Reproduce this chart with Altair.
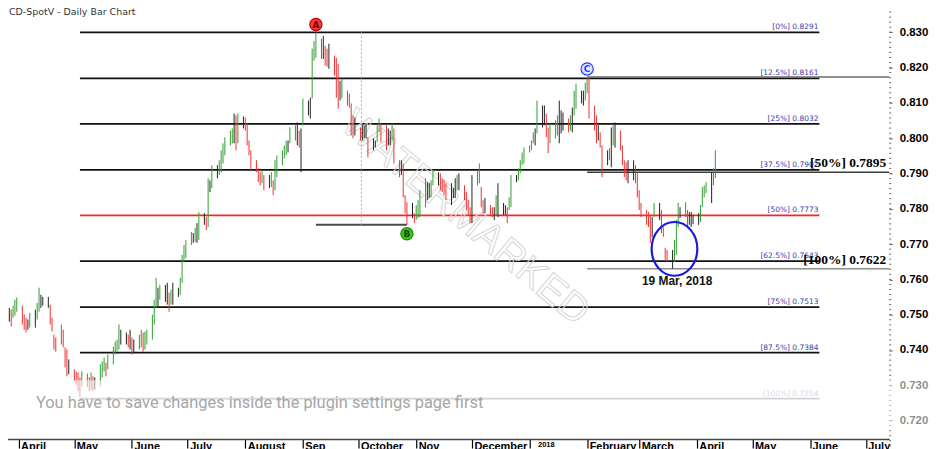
import json
import altair as alt
import numpy as np
import pandas as pd

# ---------------- data ----------------
title_text = "CD-SpotV - Daily Bar Chart"
notice_text = "You have to save changes inside the plugin settings page first"
watermark_text = "WATERMARKED"

first_day = "2017-03-23"   # business days from here, one value per day
highs = [
    0.7506, 0.7500,
    0.7511, 0.7506, 0.7517, 0.7534, 0.7540,
    0.7517, 0.7492, 0.7483, 0.7478, 0.7497,
    0.7506, 0.7525, 0.7568, 0.7548, 0.7542,
    0.7542, 0.7520, 0.7483, 0.7435, 0.7427,
    0.7464, 0.7449, 0.7399, 0.7393, 0.7365,
    0.7337, 0.7331, 0.7328, 0.7314, 0.7331,
    0.7325, 0.7314, 0.7328, 0.7317, 0.7314,
    0.7351, 0.7359, 0.7370, 0.7356, 0.7379,
    0.7401, 0.7416, 0.7421, 0.7464, 0.7449,
    0.7441, 0.7435, 0.7449, 0.7427, 0.7421,
    0.7435, 0.7449, 0.7441, 0.7444, 0.7449,
    0.7492, 0.7534, 0.7596, 0.7568, 0.7576,
    0.7576, 0.7582, 0.7554, 0.7562, 0.7582,
    0.7568, 0.7596, 0.7661, 0.7689, 0.7703,
    0.7726, 0.7723, 0.7737, 0.7751, 0.7782,
    0.7779, 0.7768, 0.7878, 0.7872, 0.7915,
    0.7915, 0.7929, 0.7957, 0.7977, 0.7994,
    0.8013, 0.8019, 0.8061, 0.8056, 0.8061,
    0.8053, 0.8050, 0.8033, 0.7985, 0.7957,
    0.7929, 0.7906, 0.7895, 0.7901, 0.7887,
    0.7887, 0.7895, 0.7872, 0.7929, 0.7943,
    0.7957, 0.7971, 0.7985, 0.7985, 0.8022,
    0.8028, 0.8036, 0.8013, 0.8019, 0.8104,
    0.8098, 0.8106, 0.8245, 0.8267, 0.8291,
    0.8273, 0.8281, 0.8253, 0.8245, 0.8259,
    0.8225, 0.8219, 0.8202, 0.8154, 0.8160,
    0.8126, 0.8118, 0.8090, 0.8056, 0.8050,
    0.8022, 0.8028, 0.8028, 0.8033, 0.7994,
    0.7991, 0.7985, 0.8028, 0.8047, 0.8033,
    0.8028, 0.8019, 0.8013, 0.8033, 0.8019,
    0.7929, 0.7929, 0.7920, 0.7830, 0.7810,
    0.7808, 0.7779, 0.7802, 0.7816, 0.7844,
    0.7878, 0.7867, 0.7864, 0.7872, 0.7901,
    0.7895, 0.7892, 0.7878, 0.7872, 0.7864,
    0.7864, 0.7850, 0.7878, 0.7887, 0.7892,
    0.7858, 0.7839, 0.7816, 0.7796, 0.7887,
    0.7901, 0.7920, 0.7853, 0.7816, 0.7822,
    0.7802, 0.7796, 0.7796, 0.7830, 0.7864,
    0.7808, 0.7802, 0.7796, 0.7824, 0.7887,
    0.7887, 0.7906, 0.7929, 0.7951, 0.7965,
    0.7971, 0.7985, 0.8008, 0.8019, 0.8098,
    0.8084, 0.8084, 0.8061, 0.8022, 0.8033,
    0.8042, 0.8056, 0.8098, 0.8070, 0.8064,
    0.8047, 0.8056, 0.8078, 0.8126, 0.8146,
    0.8126, 0.8126, 0.8149, 0.8165, 0.8163,
    0.8084, 0.8056, 0.8028, 0.8008, 0.7971,
    0.7957, 0.7963, 0.8022, 0.8028, 0.8036,
    0.8013, 0.7971, 0.7929, 0.7923, 0.7929,
    0.7929, 0.7915, 0.7892, 0.7844, 0.7808,
    0.7788, 0.7782, 0.7774, 0.7768, 0.7808,
    0.7808, 0.7788, 0.7740, 0.7681, 0.7675,
    0.7675, 0.7703, 0.7760, 0.7808, 0.7796,
    0.7810, 0.7788, 0.7782, 0.7782, 0.7774,
    0.7779, 0.7802, 0.7853, 0.7858, 0.7867,
    0.7895, 0.7906, 0.7957,
]
lows = [
    0.7483, 0.7478,
    0.7472, 0.7458, 0.7483, 0.7489, 0.7500,
    0.7464, 0.7449, 0.7441, 0.7449, 0.7455,
    0.7455, 0.7478, 0.7500, 0.7511, 0.7517,
    0.7511, 0.7464, 0.7444, 0.7393, 0.7387,
    0.7407, 0.7399, 0.7342, 0.7317, 0.7323,
    0.7303, 0.7294, 0.7275, 0.7258, 0.7289,
    0.7286, 0.7275, 0.7280, 0.7275, 0.7280,
    0.7289, 0.7314, 0.7331, 0.7317, 0.7337,
    0.7351, 0.7379, 0.7387, 0.7393, 0.7407,
    0.7407, 0.7399, 0.7393, 0.7379, 0.7385,
    0.7393, 0.7399, 0.7387, 0.7393, 0.7407,
    0.7421, 0.7464, 0.7511, 0.7511, 0.7534,
    0.7528, 0.7520, 0.7500, 0.7520, 0.7520,
    0.7542, 0.7548, 0.7582, 0.7641, 0.7652,
    0.7689, 0.7695, 0.7698, 0.7695, 0.7703,
    0.7746, 0.7731, 0.7740, 0.7839, 0.7850,
    0.7878, 0.7887, 0.7895, 0.7920, 0.7943,
    0.7971, 0.7977, 0.7977, 0.7957, 0.7977,
    0.8019, 0.8013, 0.7971, 0.7943, 0.7901,
    0.7895, 0.7867, 0.7858, 0.7864, 0.7844,
    0.7850, 0.7853, 0.7830, 0.7844, 0.7881,
    0.7915, 0.7934, 0.7943, 0.7951, 0.7977,
    0.7985, 0.7971, 0.7965, 0.7895, 0.8028,
    0.8056, 0.8047, 0.8104, 0.8211, 0.8219,
    0.8216, 0.8216, 0.8197, 0.8194, 0.8188,
    0.8169, 0.8106, 0.8075, 0.8098, 0.8104,
    0.8084, 0.8078, 0.7999, 0.7991, 0.7999,
    0.7985, 0.7985, 0.7991, 0.7991, 0.7937,
    0.7957, 0.7965, 0.7980, 0.8008, 0.7980,
    0.7957, 0.7971, 0.7971, 0.7985, 0.7920,
    0.7881, 0.7887, 0.7824, 0.7779, 0.7746,
    0.7765, 0.7751, 0.7760, 0.7765, 0.7768,
    0.7796, 0.7816, 0.7822, 0.7824, 0.7858,
    0.7858, 0.7844, 0.7839, 0.7830, 0.7816,
    0.7802, 0.7822, 0.7822, 0.7844, 0.7844,
    0.7816, 0.7788, 0.7774, 0.7751, 0.7751,
    0.7858, 0.7864, 0.7796, 0.7779, 0.7779,
    0.7774, 0.7768, 0.7760, 0.7774, 0.7768,
    0.7774, 0.7774, 0.7751, 0.7788, 0.7796,
    0.7867, 0.7872, 0.7892, 0.7915, 0.7920,
    0.7951, 0.7957, 0.7977, 0.7971, 0.8005,
    0.8022, 0.8028, 0.7994, 0.7949, 0.7977,
    0.7991, 0.7999, 0.7977, 0.8005, 0.8013,
    0.8008, 0.8013, 0.8008, 0.8056, 0.8075,
    0.8090, 0.8084, 0.8098, 0.8118, 0.8047,
    0.8013, 0.7977, 0.7985, 0.7965, 0.7881,
    0.7915, 0.7929, 0.7909, 0.7971, 0.7965,
    0.7957, 0.7915, 0.7881, 0.7872, 0.7864,
    0.7872, 0.7864, 0.7824, 0.7788, 0.7768,
    0.7746, 0.7740, 0.7695, 0.7712, 0.7768,
    0.7760, 0.7723, 0.7712, 0.7647, 0.7641,
    0.7622, 0.7641, 0.7661, 0.7740, 0.7765,
    0.7768, 0.7740, 0.7746, 0.7740, 0.7748,
    0.7746, 0.7754, 0.7796, 0.7824, 0.7836,
    0.7808, 0.7858, 0.7878,
]
assert len(highs) == len(lows)

level_pcts = ["0%", "12.5%", "25%", "37.5%", "50%", "62.5%", "75%", "87.5%", "100%"]
level_values = [0.8291, 0.8161, 0.8032, 0.7902, 0.7773, 0.7643, 0.7513, 0.7384, 0.7254]
level_start = "2017-05-04"
level_end = "2018-06-06"

second_pcts = ["50%", "100%"]
second_values = [0.7895, 0.7622]

marker_labels = ["A", "B", "C"]
marker_dates = ["2017-09-08", "2017-10-27", "2018-02-01"]
marker_prices = [0.8291, 0.7746, 0.8165]
marker_kinds = ["high", "low", "high"]

low_date = "2018-03-19"
low_price = 0.7622
circle_date = "2018-03-20"
circle_price = 0.7678

y_ticks = [0.720, 0.730, 0.740, 0.750, 0.760, 0.770, 0.780, 0.790, 0.800, 0.810, 0.820, 0.830]
month_starts = ["2017-04-01", "2017-05-01", "2017-06-01", "2017-07-01", "2017-08-01", "2017-09-01",
                "2017-10-01", "2017-11-01", "2017-12-01", "2018-01-01", "2018-02-01", "2018-03-01",
                "2018-04-01", "2018-05-01", "2018-06-01", "2018-07-01"]
month_names = ["April", "May", "June", "July", "August", "Sep", "October", "Nov", "December",
               "2018", "February", "March", "April", "May", "June", "July"]

# ---------------- layout / style ----------------
W, H = 893, 440
x_scale = alt.Scale(domain=[alt.DateTime(year=2017, month=3, date=22),
                            alt.DateTime(year=2018, month=7, date=13, hours=13, minutes=30)])
y_scale = alt.Scale(domain=[0.71392, 0.8380], nice=False, zero=False)

GREEN, RED, BLACK = "#2f9e2f", "#ee3030", "#222222"

def dt(s):
    t = pd.Timestamp(s)
    return alt.DateTime(year=t.year, month=t.month, date=t.day)

label_array = json.dumps(month_names).replace('"', "'")
x_axis = alt.Axis(
    values=[dt(m) for m in month_starts],
    labelExpr=f"{label_array}[(year(datum.value)-2017)*12+month(datum.value)-3]",
    labelAlign="left", labelBaseline="top", labelPadding=-8,
    labelOffset={"condition": {"test": "month(datum.value)==0", "value": 8}, "value": 2},
    labelFont="Liberation Sans", labelFontWeight="bold",
    labelFontSize={"condition": {"test": "month(datum.value)==0", "value": 7.5}, "value": 11},
    labelColor="#000", labelOverlap=False, labelFlush=False,
    tickSize=9, tickColor="#000", tickWidth=1.2,
    domainColor="#444", domainWidth=1.5, grid=False, title=None,
)
y_axis = alt.Axis(
    orient="right", values=y_ticks, format=".3f",
    labelFont="Liberation Sans", labelFontWeight="bold", labelFontSize=11.5, labelColor="#000",
    labelPadding=7, tickSize=3, tickColor="#555", tickOffset=3,
    domain=False, grid=False, title=None,
)

# ---------------- tables ----------------
bar_df = pd.DataFrame({"date": pd.bdate_range(first_day, periods=len(highs)),
                       "high": highs, "low": lows})
ph, pl = bar_df["high"].shift(), bar_df["low"].shift()
bar_df["clr"] = np.where((bar_df["high"] > ph) & (bar_df["low"] > pl), GREEN,
                         np.where((bar_df["high"] < ph) & (bar_df["low"] < pl), RED, BLACK))

lev = pd.DataFrame({"pct": level_pcts, "value": level_values})
lev["start"] = pd.Timestamp(level_start)
lev["end"] = pd.Timestamp(level_end)
lev["label"] = [f"[{p}] {v:.4f}" for p, v in zip(level_pcts, level_values)]
lev["line_color"] = [{"50%": "#ff2424", "100%": "#a0a0a0"}.get(p, "#111111") for p in level_pcts]
lev["text_color"] = ["#a8a8d0" if p == "100%" else "#3b3bab" for p in level_pcts]

mk = pd.DataFrame({"label": marker_labels, "date": pd.to_datetime(marker_dates),
                   "price": marker_prices, "kind": marker_kinds})
mk_fill = {"A": "#f03c3c", "B": "#3cc81a", "C": "#dfe5ff"}
mk_stroke = {"A": "#c40000", "B": "#1f8a00", "C": "#1f3cff"}
mk_text = {"A": "#7a0000", "B": "#0d4d00", "C": "#1f3cff"}
mk["fill"] = mk["label"].map(mk_fill)
mk["stroke"] = mk["label"].map(mk_stroke)
mk["tcolor"] = mk["label"].map(mk_text)

a_row, b_row, c_row = mk.iloc[0], mk.iloc[1], mk.iloc[2]

second = pd.DataFrame({"value": [c_row["price"]] + second_values,
                       "start": c_row["date"],
                       "clr": ["#6a6a6a", "#3c3c3c", "#8e8e8e"]})
big = pd.DataFrame({"value": second_values,
                    "label": [f"[{p}] {v:.4f}" for p, v in zip(second_pcts, second_values)]})

bline = pd.DataFrame({"start": [a_row["date"]], "end": [b_row["date"]], "value": [b_row["price"]]})
vline = pd.DataFrame({"date": [a_row["date"] + (b_row["date"] - a_row["date"]) / 2],
                      "top": [a_row["price"]], "bottom": [b_row["price"]]})

low_ts = pd.Timestamp(low_date)
low_df = pd.DataFrame({"date": [low_ts], "price": [low_price],
                       "label": [f"{low_ts.day} {low_ts.strftime('%b, %Y')}"]})
circ_df = pd.DataFrame({"date": [pd.Timestamp(circle_date)], "price": [circle_price]})

minor = pd.DataFrame({"v": [0.720 + k * 0.01 / 7 for k in range(-7, 84)]})
one = pd.DataFrame({"t": [title_text], "n": [notice_text], "w": [watermark_text]})

X = lambda f: alt.X(f, scale=x_scale, axis=x_axis)
Y = lambda f: alt.Y(f, scale=y_scale, axis=y_axis)

# ---------------- layers ----------------
watermark = alt.Chart(one).mark_text(
    angle=40, font="Liberation Sans", fontSize=40, fillOpacity=0, stroke="#d6d6d6", strokeWidth=1,
    align="center", baseline="middle").encode(x=alt.value(467), y=alt.value(218), text="w:N")

level_lines = alt.Chart(lev).mark_rule(strokeWidth=1.8).encode(
    x=X("start:T"), x2="end:T", y=Y("value:Q"),
    color=alt.Color("line_color:N", scale=None))

level_text = alt.Chart(lev).mark_text(
    align="right", baseline="bottom", dx=-1, dy=-1, font="DejaVu Sans", fontSize=7.5).encode(
    x=X("end:T"), y=Y("value:Q"), text="label:N", color=alt.Color("text_color:N", scale=None))

second_lines = alt.Chart(second).mark_rule(strokeWidth=1.5).encode(
    x=X("start:T"), x2=alt.value(W), y=Y("value:Q"), color=alt.Color("clr:N", scale=None))

big_text = alt.Chart(big).mark_text(
    align="right", baseline="bottom", dy=-2, font="Liberation Serif", fontWeight="bold",
    fontSize=13.5, color="#000").encode(x=alt.value(890), y=Y("value:Q"), text="label:N")

b_line = alt.Chart(bline).mark_rule(strokeWidth=2, color="#4a4a4a").encode(
    x=X("start:T"), x2="end:T", y=Y("value:Q"))

v_line = alt.Chart(vline).mark_rule(strokeWidth=1, color="#b0b0b0", strokeDash=[2, 2]).encode(
    x=X("date:T"), y=Y("top:Q"), y2="bottom:Q")

bars = alt.Chart(bar_df).mark_rule(strokeWidth=1).encode(
    x=X("date:T"), y=Y("low:Q"), y2="high:Q", color=alt.Color("clr:N", scale=None))

def marker_layers(kind, off):
    base = alt.Chart(mk).transform_filter(alt.datum.kind == kind)
    dot = base.mark_point(shape="circle", filled=True, size=150, strokeWidth=1.2, opacity=1,
                          yOffset=off).encode(
        x=X("date:T"), y=Y("price:Q"),
        fill=alt.Fill("fill:N", scale=None), stroke=alt.Stroke("stroke:N", scale=None))
    txt = base.mark_text(font="DejaVu Sans", fontWeight="bold", fontSize=9, baseline="middle",
                         align="center", yOffset=off + 0.5).encode(
        x=X("date:T"), y=Y("price:Q"), text="label:N", color=alt.Color("tcolor:N", scale=None))
    return [dot, txt]

ellipse_path = ("M 0.85 0 C 0.85 0.5523 0.4695 1 0 1 C -0.4695 1 -0.85 0.5523 -0.85 0 "
                "C -0.85 -0.5523 -0.4695 -1 0 -1 C 0.4695 -1 0.85 -0.5523 0.85 0 Z")
ellipse = alt.Chart(circ_df).mark_point(
    shape=ellipse_path, size=2916, filled=False, stroke="#1818e0", strokeWidth=2.2, opacity=1).encode(
    x=X("date:T"), y=Y("price:Q"))

low_text = alt.Chart(low_df).mark_text(
    font="Liberation Sans", fontWeight="bold", fontSize=12, dx=4.5, dy=12.5,
    baseline="middle", align="center", color="#111").encode(
    x=X("date:T"), y=Y("price:Q"), text="label:N")

title = alt.Chart(one).mark_text(
    align="left", baseline="middle", font="DejaVu Sans", fontSize=9.5, color="#333").encode(
    x=alt.value(9), y=alt.value(11), text="t:N")

minor_ticks = alt.Chart(minor).mark_rule(color="#666", strokeWidth=1, yOffset=3).encode(
    x=alt.value(W), x2=alt.value(W + 2), y=Y("v:Q"))

fade = alt.Chart(one).mark_rect(color="white", opacity=0.55).encode(
    x=alt.value(0), x2=alt.value(935), y=alt.value(381), y2=alt.value(431))

notice = alt.Chart(one).mark_text(
    align="left", baseline="middle", font="Roboto", fontSize=16.5, color="#a6a6a6").encode(
    x=alt.value(36), y=alt.value(404), text="n:N")

chart = alt.layer(
    level_lines, watermark, second_lines, b_line, v_line, bars, level_text, big_text,
    *marker_layers("high", -8), *marker_layers("low", 9),
    ellipse, low_text, title, minor_ticks, fade, notice,
).properties(
    width=W, height=H, padding={"left": -8, "top": -8, "right": 0, "bottom": 0}, background="white"
).configure_view(strokeWidth=0)

chart.save("out.html", embed_options={"renderer": "svg", "actions": False})
